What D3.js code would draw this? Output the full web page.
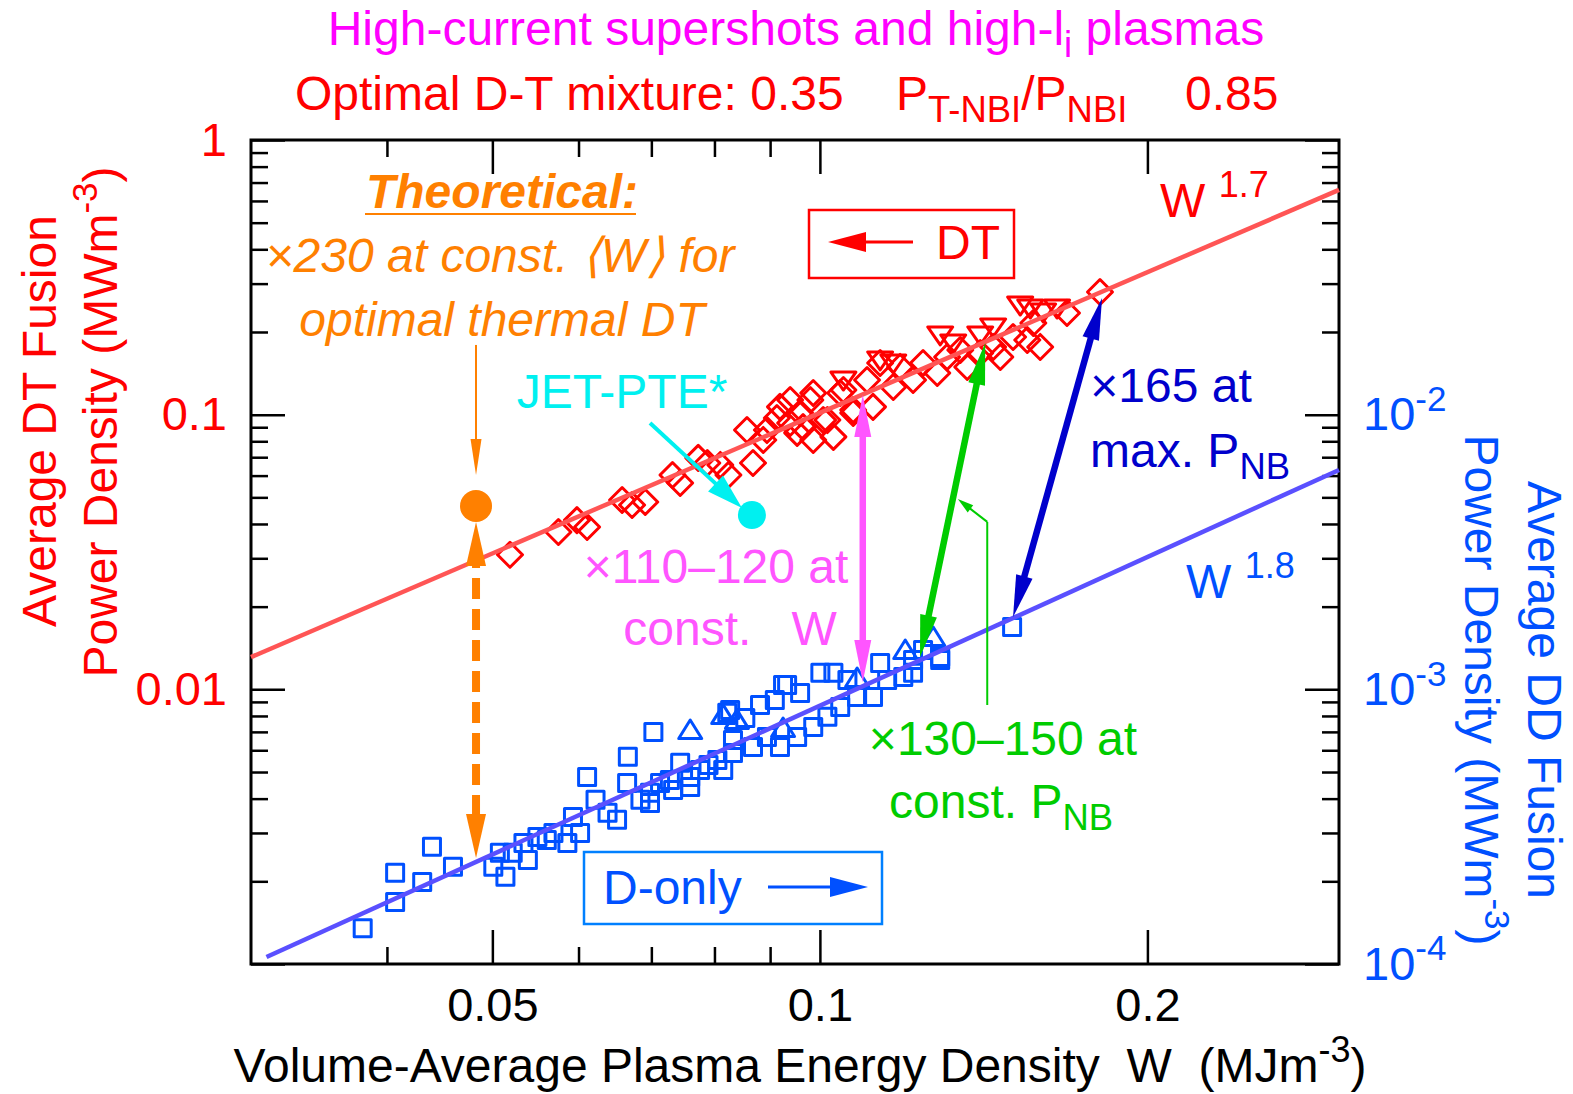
<!DOCTYPE html>
<html>
<head>
<meta charset="utf-8">
<script src="https://cdn.jsdelivr.net/npm/d3@7"></script>
<style>
  body { margin: 0; background: #fff; }
  svg text { font-family: "Liberation Sans", Arial, Helvetica, sans-serif; }
</style>
</head>
<body>
<svg id="chart" width="1573" height="1094"></svg>
<script>
// ---- DT supershot data (left axis, MW m^-3) ----
const dtDiamondW = [0.0519,0.0575,0.0598,0.0611,0.0658,0.0672,0.0691,0.0732,0.0744,0.0773,0.0788,0.0810,0.0824,0.0857,0.0868,0.0887,0.0894,0.0919,0.0939,0.0953,0.0980,0.0986,0.1016,0.1029,0.1044,0.1073,0.0939,0.0959,0.0986,0.1007,0.1051,0.1073,0.1105,0.1119,0.1136,0.1168,0.1185,0.1218,0.1244,0.1282,0.1309,0.1346,0.1366,0.1404,0.1443,0.1465,0.1505,0.1551,0.1571,0.1594,0.1687,0.1809,0.0913,0.0965];
const dtDiamondP = [0.0309,0.0374,0.0413,0.0390,0.0489,0.0469,0.0481,0.0603,0.0564,0.0696,0.0667,0.0656,0.0603,0.0879,0.0667,0.0809,0.0879,0.1067,0.0933,0.0858,0.1131,0.0809,0.0956,0.0830,0.1199,0.1040,0.1131,0.1014,0.1199,0.0956,0.1230,0.1014,0.1337,0.1067,0.1542,0.1261,0.1492,0.1337,0.1542,0.1418,0.1622,0.1720,0.1492,0.1677,0.1764,0.1622,0.1918,0.1870,0.2157,0.1764,0.2346,0.2797,0.0972,0.0901];
const dtTriW = [0.1051,0.1136,0.1168,0.1290,0.1326,0.1404,0.1443,0.1528,0.1561,0.1604,0.1652];
const dtTriP = [0.1337,0.1582,0.1542,0.1951,0.1824,0.1951,0.2086,0.2507,0.2445,0.2366,0.2445];

// ---- D-only data (right axis, MW m^-3) ----
const ddSqW = [0.0380,0.0407,0.0407,0.0431,0.0440,0.0460,0.0501,0.0514,0.0508,0.0522,0.0534,0.0539,0.0550,0.0561,0.0569,0.0586,0.0602,0.0593,0.0611,0.0622,0.0638,0.0651,0.0665,0.0666,0.0684,0.0703,0.0698,0.0713,0.0733,0.0744,0.0760,0.0776,0.0805,0.0822,0.0815,0.0832,0.0827,0.0933,0.1029,0.1136,0.1218,0.1290,0.1502,0.0698,0.0728,0.0760,0.0790,0.0832,0.0868,0.0894,0.0919,0.0953,0.0986,0.1016,0.1044,0.1082,0.1119,0.1153,0.1193,0.1218,0.1244,0.1290,0.0925,0.0959,0.1001,0.1060,0.0854,0.0881,0.0909];
const ddSqP = [0.000135,0.000168,0.000215,0.000199,0.000267,0.000226,0.000226,0.000208,0.000254,0.000254,0.000276,0.000239,0.000290,0.000283,0.000300,0.000276,0.000300,0.000343,0.000480,0.000396,0.000355,0.000335,0.000456,0.000568,0.000396,0.000700,0.000386,0.000456,0.000430,0.000540,0.000480,0.000509,0.000553,0.000821,0.000509,0.000654,0.000841,0.001038,0.001148,0.001248,0.001148,0.001279,0.001687,0.000420,0.000468,0.000441,0.000530,0.000587,0.000617,0.000671,0.000617,0.000671,0.000729,0.000794,0.000863,0.000938,0.000938,0.001082,0.001110,0.001279,0.001391,0.001312,0.001038,0.000970,0.001148,0.001082,0.000787,0.000877,0.000915];
const ddTriW = [0.0760,0.0815,0.0839,0.0925,0.1082,0.1198,0.1271];
const ddTriP = [0.000711,0.000807,0.000774,0.000723,0.001100,0.001391,0.001551];

// ---- power-law fits ----
const dtFitW = [0.03, 0.3];
const dtFitP = [0.0131, 0.658];      // ~ W^1.7
const ddFitW = [0.031, 0.3];
const ddFitP = [0.000106, 0.00629];  // ~ W^1.8

// ---- reference points ----
const theoryW = 0.0483, theoryP = 0.0465;   // optimal thermal DT
const jetW = 0.0866, jetP = 0.0431;         // JET-PTE*

// ---- gain arrows: [W_low, P_DD(right)] -> [W_high, P_DT(left)] ----
const pinkArrow  = { w0: 0.1095, p0: 0.001064, w1: 0.1095, p1: 0.118 };
const greenArrow = { w0: 0.1236, p0: 0.001312, w1: 0.1419, p1: 0.1824 };
const navyArrow  = { w0: 0.1505, p0: 0.001835, w1: 0.1817, p1: 0.266 };
const orangeArrow = { w: 0.0483, pTop: 0.0407, pBottom: 0.000243 };

// ---- axis ticks ----
const xMajor = [0.05, 0.1, 0.2];
const xMajorLabels = ["0.05", "0.1", "0.2"];
const xMinor = [0.04, 0.06, 0.07, 0.08, 0.09];
const yLeftMajor = [0.001, 0.01, 0.1, 1];
const yLeftLabels = ["", "0.01", "0.1", "1"];
const yRightMajor = [1e-4, 1e-3, 1e-2, 1e-1];
const yRightExp = ["-4", "-3", "-2", ""];

const FONT = '"Liberation Sans", Arial, Helvetica, sans-serif';
const FS = 48;
const RED = "#ff0000", BLUE = "#0050ff";

const svg = d3.select("#chart");
const x = d3.scaleLog().domain([0.03, 0.3]).range([251, 1339]);
const yL = d3.scaleLog().domain([0.001, 1]).range([964, 140]);
const yR = d3.scaleLog().domain([1e-4, 1e-1]).range([964, 140]);
const [X0, X1] = x.range();
const [Y0, Y1] = [yL.range()[1], yL.range()[0]];

const isDecade = v => Math.abs(Math.log10(v) - Math.round(Math.log10(v))) < 1e-9;
const yLeftMinor = yL.ticks().filter(v => !isDecade(v));
const yRightMinor = yR.ticks().filter(v => !isDecade(v));

function styleAxis(g, size, color) {
  g.attr("font-family", FONT).attr("font-size", size);
  g.select(".domain").remove();
  g.selectAll(".tick line").attr("stroke", "#000").attr("stroke-width", 2.5);
  g.selectAll(".tick text").attr("fill", color);
}

// bottom
styleAxis(svg.append("g").attr("transform", `translate(0,${Y1})`)
  .call(d3.axisBottom(x).tickValues(xMajor).tickSize(-34).tickPadding(24)
    .tickFormat((d, i) => xMajorLabels[i])), 47, "#000");
styleAxis(svg.append("g").attr("transform", `translate(0,${Y1})`)
  .call(d3.axisBottom(x).tickValues(xMinor).tickSize(-17).tickFormat("")), 47, "#000");
// top
styleAxis(svg.append("g").attr("transform", `translate(0,${Y0})`)
  .call(d3.axisTop(x).tickValues(xMajor).tickSize(-34).tickFormat("")), 47, "#000");
styleAxis(svg.append("g").attr("transform", `translate(0,${Y0})`)
  .call(d3.axisTop(x).tickValues(xMinor).tickSize(-17).tickFormat("")), 47, "#000");
// left
styleAxis(svg.append("g").attr("transform", `translate(${X0},0)`)
  .call(d3.axisLeft(yL).tickValues(yLeftMajor).tickSize(-34).tickPadding(24)
    .tickFormat((d, i) => yLeftLabels[i])), 47, RED);
styleAxis(svg.append("g").attr("transform", `translate(${X0},0)`)
  .call(d3.axisLeft(yL).tickValues(yLeftMinor).tickSize(-17).tickFormat("")), 47, RED);
// right
const rightAx = svg.append("g").attr("transform", `translate(${X1},0)`)
  .call(d3.axisRight(yR).tickValues(yRightMajor).tickSize(-34).tickPadding(24)
    .tickFormat(() => ""));
styleAxis(rightAx, 47, BLUE);
rightAx.selectAll(".tick text").each(function (d, i) {
  if (!yRightExp[i]) return;
  const t = d3.select(this);
  t.append("tspan").text("10");
  t.append("tspan").attr("font-size", 35).attr("dy", "-0.55em").text(yRightExp[i]);
});
styleAxis(svg.append("g").attr("transform", `translate(${X1},0)`)
  .call(d3.axisRight(yR).tickValues(yRightMinor).tickSize(-17).tickFormat("")), 47, BLUE);

// frame
svg.append("rect").attr("x", X0).attr("y", Y0).attr("width", X1 - X0).attr("height", Y1 - Y0)
  .attr("fill", "none").attr("stroke", "#000").attr("stroke-width", 3);

// ---- markers ----
const plot = svg.append("g");
const diamond = "M0,-12.5L12.5,0L0,12.5L-12.5,0Z";
const triDown = "M-12.5,-8L12.5,-8L0,10Z";
const triUp = "M0,-10L11.5,8.5L-11.5,8.5Z";
const square = "M-8.5,-8.5H8.5V8.5H-8.5Z";

plot.selectAll(".dd-sq").data(ddSqW).join("path").attr("class", "dd-sq")
  .attr("d", square).attr("transform", (w, i) => `translate(${x(w)},${yR(ddSqP[i])})`)
  .attr("fill", "none").attr("stroke", BLUE).attr("stroke-width", 3).attr("stroke-linejoin", "round");
plot.selectAll(".dd-tri").data(ddTriW).join("path").attr("class", "dd-tri")
  .attr("d", triUp).attr("transform", (w, i) => `translate(${x(w)},${yR(ddTriP[i])})`)
  .attr("fill", "none").attr("stroke", BLUE).attr("stroke-width", 3).attr("stroke-linejoin", "round");
plot.selectAll(".dt-dia").data(dtDiamondW).join("path").attr("class", "dt-dia")
  .attr("d", diamond).attr("transform", (w, i) => `translate(${x(w)},${yL(dtDiamondP[i])})`)
  .attr("fill", "none").attr("stroke", RED).attr("stroke-width", 3).attr("stroke-linejoin", "round");
plot.selectAll(".dt-tri").data(dtTriW).join("path").attr("class", "dt-tri")
  .attr("d", triDown).attr("transform", (w, i) => `translate(${x(w)},${yL(dtTriP[i])})`)
  .attr("fill", "none").attr("stroke", RED).attr("stroke-width", 3).attr("stroke-linejoin", "round");

// ---- fits ----
plot.append("path").datum(dtFitW)
  .attr("d", d3.line().x(w => x(w)).y((w, i) => yL(dtFitP[i])))
  .attr("stroke", "#ff5555").attr("stroke-width", 4.5).attr("fill", "none");
plot.append("path").datum(ddFitW)
  .attr("d", d3.line().x(w => x(w)).y((w, i) => yR(ddFitP[i])))
  .attr("stroke", "#5a50ff").attr("stroke-width", 4.5).attr("fill", "none");

// ---- arrow helpers ----
function head(g, tip, tail, len, wid, color) {
  const dx = tip[0] - tail[0], dy = tip[1] - tail[1], L = Math.hypot(dx, dy);
  const ux = dx / L, uy = dy / L;
  const bx = tip[0] - ux * len, by = tip[1] - uy * len;
  g.append("polygon")
    .attr("points", [[tip[0], tip[1]], [bx - uy * wid / 2, by + ux * wid / 2], [bx + uy * wid / 2, by - ux * wid / 2]].join(" "))
    .attr("fill", color);
  return [bx + ux * 2, by + uy * 2];
}
function arrow(g, a, b, o) {
  const endB = head(g, b, a, o.len, o.wid, o.color);
  const endA = o.both ? head(g, a, b, o.len, o.wid, o.color) : a;
  g.append("line").attr("x1", endA[0]).attr("y1", endA[1]).attr("x2", endB[0]).attr("y2", endB[1])
    .attr("stroke", o.color).attr("stroke-width", o.sw).attr("stroke-dasharray", o.dash || null);
}

const ann = svg.append("g");

// theoretical optimum
arrow(ann, [x(orangeArrow.w), yR(orangeArrow.pBottom)], [x(orangeArrow.w), yL(orangeArrow.pTop)],
  { len: 44, wid: 20, color: "#ff8000", sw: 8, both: true, dash: "21 10" });
ann.append("circle").attr("cx", x(theoryW)).attr("cy", yL(theoryP)).attr("r", 16).attr("fill", "#ff8000");
arrow(ann, [x(theoryW), yL(0.1794)], [x(theoryW), yL(0.0603)], { len: 36, wid: 11, color: "#ff8000", sw: 2 });

// JET-PTE*
arrow(ann, [x(0.0698), yL(0.0933)], [x(0.0848), yL(0.04574)], { len: 36, wid: 22, color: "#00f0f0", sw: 4 });
ann.append("circle").attr("cx", x(jetW)).attr("cy", yL(jetP)).attr("r", 14).attr("fill", "#00f0f0");

// gain arrows
arrow(ann, [x(pinkArrow.w0), yR(pinkArrow.p0)], [x(pinkArrow.w1), yL(pinkArrow.p1)],
  { len: 42, wid: 17, color: "#ff55ff", sw: 6.5, both: true });
arrow(ann, [x(greenArrow.w0), yR(greenArrow.p0)], [x(greenArrow.w1), yL(greenArrow.p1)],
  { len: 42, wid: 17, color: "#00cc00", sw: 6.5, both: true });
arrow(ann, [x(navyArrow.w0), yR(navyArrow.p0)], [x(navyArrow.w1), yL(navyArrow.p1)],
  { len: 42, wid: 17, color: "#0000cc", sw: 6.5, both: true });

// green pointer
ann.append("polyline")
  .attr("points", [[x(0.1425), yL(0.00877)], [x(0.1425), yL(0.0407)]].join(" "))
  .attr("fill", "none").attr("stroke", "#00cc00").attr("stroke-width", 2);
arrow(ann, [x(0.1425), yL(0.0407)], [x(0.1339), yL(0.0493)], { len: 16, wid: 9, color: "#00cc00", sw: 2 });

// ---- legend boxes ----
const dtBox = ann.append("g");
dtBox.append("rect").attr("x", 809).attr("y", 210).attr("width", 205).attr("height", 68)
  .attr("fill", "none").attr("stroke", RED).attr("stroke-width", 2.5);
arrow(dtBox, [913, 242], [828, 242], { len: 38, wid: 20, color: RED, sw: 3 });
dtBox.append("text").attr("x", 936).attr("y", 259).attr("font-size", FS).attr("fill", RED).text("DT");

const ddBox = ann.append("g");
ddBox.append("rect").attr("x", 584).attr("y", 852).attr("width", 298).attr("height", 72)
  .attr("fill", "none").attr("stroke", "#0080ff").attr("stroke-width", 2.5);
ddBox.append("text").attr("x", 603).attr("y", 904).attr("font-size", FS).attr("fill", BLUE).text("D-only");
arrow(ddBox, [768, 887], [868, 887], { len: 38, wid: 20, color: BLUE, sw: 3 });

// ---- text annotations ----
function label(txt, px, py, color, size, opt = {}) {
  const t = svg.append("text").attr("x", px).attr("y", py).attr("fill", color)
    .attr("font-size", size).attr("text-anchor", opt.anchor || "start")
    .attr("font-style", opt.italic ? "italic" : null).attr("font-weight", opt.bold ? "bold" : null)
    .style("white-space", "pre");
  if (typeof txt === "string") t.text(txt);
  else txt.forEach(p => {
    const s = t.append("tspan").text(p.t);
    if (p.sub) s.attr("font-size", size * 0.76).attr("dy", size * 0.25);
    if (p.sup) s.attr("font-size", size * 0.75).attr("dy", -size * 0.42);
    if (p.back) s.attr("dy", p.back);
  });
  return t;
}

label([{ t: "High-current supershots and high-l" }, { t: "i", sub: true }, { t: " plasmas", back: -FS * 0.25 }],
  796, 45, "#ff00ff", FS, { anchor: "middle" });
label("Optimal D-T mixture: 0.35", 295, 110, RED, FS);
label([{ t: "P" }, { t: "T-NBI", sub: true }, { t: "/P", back: -FS * 0.25 }, { t: "NBI", sub: true }], 896, 110, RED, FS);
label("0.85", 1185, 110, RED, FS);

label([{ t: "Volume-Average Plasma Energy Density  W  (MJm" }, { t: "-3", sup: true }, { t: ")", back: FS * 0.42 }],
  800, 1082, "#000", FS, { anchor: "middle" });

svg.append("g").attr("transform", "translate(56,421) rotate(-90)").append("text")
  .attr("text-anchor", "middle").attr("font-size", FS).attr("fill", RED).text("Average DT Fusion");
const lt = svg.append("g").attr("transform", "translate(117,422) rotate(-90)").append("text")
  .attr("text-anchor", "middle").attr("font-size", FS).attr("fill", RED);
lt.append("tspan").text("Power Density (MWm");
lt.append("tspan").attr("font-size", 35).attr("dy", -20).text("-3");
lt.append("tspan").attr("dy", 20).text(")");

svg.append("g").attr("transform", "translate(1528,690) rotate(90)").append("text")
  .attr("text-anchor", "middle").attr("font-size", FS).attr("fill", BLUE).text("Average DD Fusion");
const rt = svg.append("g").attr("transform", "translate(1465,690) rotate(90)").append("text")
  .attr("text-anchor", "middle").attr("font-size", FS).attr("fill", BLUE);
rt.append("tspan").text("Power Density (MWm");
rt.append("tspan").attr("font-size", 35).attr("dy", -20).text("-3");
rt.append("tspan").attr("dy", 20).text(")");

// fit exponents
label([{ t: "W " }, { t: "1.7", sup: true }], 1160, 217, RED, FS);
label([{ t: "W " }, { t: "1.8", sup: true }], 1186, 598, BLUE, FS);

// theory
label("Theoretical:", 502, 208, "#ff8000", FS, { anchor: "middle", italic: true, bold: true });
svg.append("line").attr("x1", 365).attr("x2", 636).attr("y1", 214).attr("y2", 214)
  .attr("stroke", "#ff8000").attr("stroke-width", 2);
label("×230 at const. ⟨W⟩ for", 500, 272, "#ff8000", FS, { anchor: "middle", italic: true });
label("optimal thermal DT", 502, 336, "#ff8000", FS, { anchor: "middle", italic: true });

label("JET-PTE*", 622, 408, "#00f0f0", FS, { anchor: "middle" });

label("×110–120 at", 716, 583, "#ff55ff", FS, { anchor: "middle" });
label("const.   W", 730, 645, "#ff55ff", FS, { anchor: "middle" });

label("×130–150 at", 1003, 755, "#00cc00", FS, { anchor: "middle" });
label([{ t: "const. P" }, { t: "NB", sub: true }], 889, 818, "#00cc00", FS);

label("×165 at", 1171, 402, "#0000cc", FS, { anchor: "middle" });
label([{ t: "max. P" }, { t: "NB", sub: true }], 1090, 467, "#0000cc", FS);
</script>
</body>
</html>
